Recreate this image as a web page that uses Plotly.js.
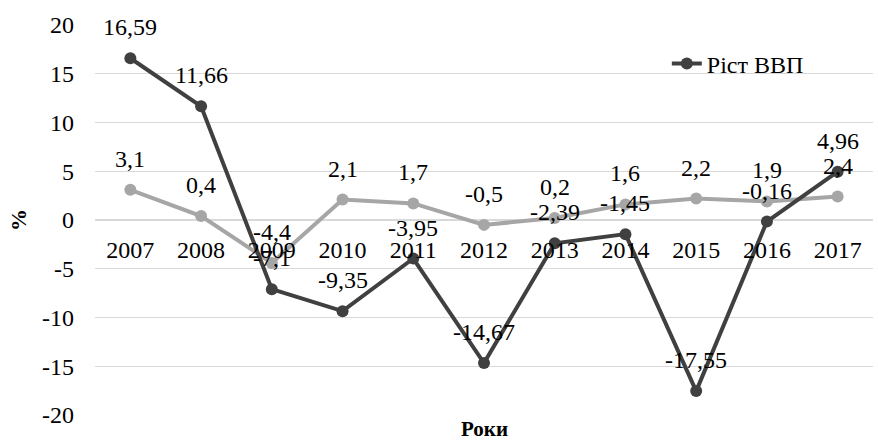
<!DOCTYPE html>
<html>
<head>
<meta charset="utf-8">
<script src="https://cdn.plot.ly/plotly-3.0.1.min.js"></script>
<style>html,body{margin:0;padding:0;background:#fff;}#chart{width:878px;height:443px;}</style>
</head>
<body>
<div id="chart"></div>
<script>
const years = ['2007','2008','2009','2010','2011','2012','2013','2014','2015','2016','2017'];
const gdpGrowth = [16.59, 11.66, -7.1, -9.35, -3.95, -14.67, -2.39, -1.45, -17.55, -0.16, 4.96];
const otherSeries = [3.1, 0.4, -4.4, 2.1, 1.7, -0.5, 0.2, 1.6, 2.2, 1.9, 2.4];
const yTicks = [-20, -15, -10, -5, 0, 5, 10, 15, 20];
const gdpName = 'Ріст ВВП';
const xTitle = 'Роки';
const yTitle = '%';

const fmt = v => String(v).replace('.', ',');
const font = 'Liberation Serif';
const fs = 24;

const traces = [
  {x: years, y: otherSeries, type: 'scatter', mode: 'lines+markers', showlegend: false,
   line: {color: '#a6a6a6', width: 4}, marker: {color: '#a6a6a6', size: 12}},
  {x: years, y: gdpGrowth, type: 'scatter', mode: 'lines+markers', name: gdpName,
   line: {color: '#404040', width: 4}, marker: {color: '#404040', size: 12}}
];

const annotations = [];
[otherSeries, gdpGrowth].forEach(series => {
  series.forEach((v, i) => {
    annotations.push({x: i, y: v, xref: 'x', yref: 'y', text: fmt(v), showarrow: false,
      yshift: 31, font: {family: font, size: fs, color: '#000'}});
  });
});
annotations.push({xref: 'paper', yref: 'paper', x: 0.5, y: 0, yshift: -14, yanchor: 'middle', xanchor: 'center',
  text: '<b>' + xTitle + '</b>', showarrow: false, font: {family: font, size: 21, color: '#000'}});
annotations.push({xref: 'paper', yref: 'paper', x: 0, xshift: -77, y: 0.5, xanchor: 'center', yanchor: 'middle',
  text: '<b>' + yTitle + '</b>', textangle: -90, showarrow: false, font: {family: font, size: 22, color: '#000'}});

const layout = {
  width: 878, height: 443,
  margin: {l: 95, r: 5, t: 25, b: 28},
  paper_bgcolor: '#fff', plot_bgcolor: '#fff',
  font: {family: font, size: fs, color: '#000'},
  xaxis: {type: 'category', range: [-0.5, 10.5], anchor: 'free', position: 0.5,
    showgrid: false, zeroline: false, showline: false, ticks: '', ticklabelstandoff: 13,
    tickfont: {family: font, size: fs, color: '#000'}},
  yaxis: {range: [-20, 20], tickvals: yTicks, ticktext: yTicks.map(String), showgrid: true,
    gridcolor: '#d9d9d9', gridwidth: 1.3, zeroline: false, showline: false, ticks: '',
    ticklabelstandoff: 20, tickfont: {family: font, size: fs, color: '#000'}},
  showlegend: true,
  legend: {x: 0.735, y: 0.9, xanchor: 'left', yanchor: 'middle', bgcolor: 'rgba(0,0,0,0)',
    font: {family: 'Times New Roman, Liberation Serif, serif', size: 24, color: '#000'}},
  annotations: annotations
};

Plotly.newPlot('chart', traces, layout, {displayModeBar: false, staticPlot: true});
</script>
</body>
</html>
